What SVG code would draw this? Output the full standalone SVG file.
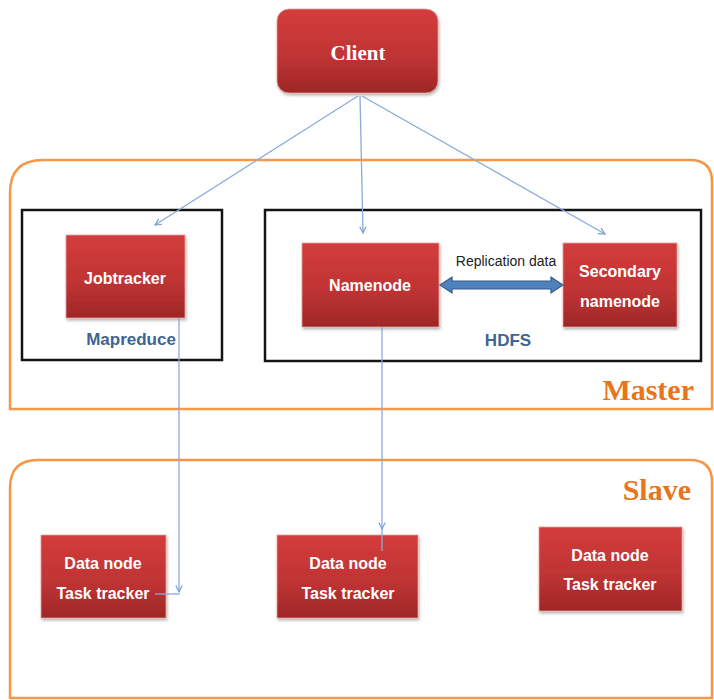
<svg xmlns="http://www.w3.org/2000/svg" width="714" height="700" viewBox="0 0 714 700">
  <style>
    .tier { fill: none; stroke: #f79646; stroke-width: 2.5; }
    .group { fill: none; stroke: #141414; stroke-width: 2.5; }
    .box { fill: url(#redFill); stroke: #e7a0a0; stroke-width: 0.8; filter: url(#shadow); }
    .label { font-family: "Liberation Sans", Arial, sans-serif; font-weight: bold; font-size: 16px; fill: #ffffff; text-anchor: middle; }
    .title { font-family: "Liberation Serif", "DejaVu Serif", serif; font-weight: bold; fill: #ffffff; text-anchor: middle; font-size: 21px; }
    .groupName { font-family: "Liberation Sans", Arial, sans-serif; font-weight: bold; font-size: 17px; fill: #3f6395; text-anchor: middle; }
    .tierName { font-family: "Liberation Serif", "DejaVu Serif", serif; font-weight: bold; font-size: 30px; fill: #e8741c; text-anchor: end; }
    .note { font-family: "Liberation Sans", Arial, sans-serif; font-size: 14px; fill: #222222; text-anchor: middle; }
    .link { fill: none; stroke: #8aaadb; stroke-width: 1.3; }
  </style>
  <defs>
    <linearGradient id="redFill" x1="0" y1="0" x2="0" y2="1">
      <stop offset="0" stop-color="#d33c3c"/>
      <stop offset="0.55" stop-color="#c03434"/>
      <stop offset="1" stop-color="#9f2727"/>
    </linearGradient>
    <filter id="shadow" x="-10%" y="-10%" width="125%" height="130%">
      <feDropShadow dx="1" dy="2" stdDeviation="1.5" flood-color="#000000" flood-opacity="0.3"/>
    </filter>
    <marker id="openArrow" viewBox="0 0 10 10" refX="9" refY="5" markerWidth="8" markerHeight="8" markerUnits="userSpaceOnUse" orient="auto">
      <path d="M1,1 L9,5 L1,9" fill="none" stroke="#7a9fd6" stroke-width="1.5"/>
    </marker>
  </defs>

  <rect width="714" height="700" fill="#ffffff"/>

  <!-- Master and Slave tiers -->
  <g id="master">
    <path class="tier" d="M10,409 L10,193 Q10,160 43,160 L690,160 Q712,160 712,182 L712,409 Z"/>
    <text class="tierName" x="694" y="400">Master</text>
  </g>
  <g id="slave">
    <path class="tier" d="M10,698 L10,488 Q10,460 38,460 L690,460 Q712,460 712,482 L712,698 Z"/>
    <text class="tierName" x="691" y="500">Slave</text>
  </g>

  <!-- Groups inside master -->
  <g id="mapreduce">
    <rect class="group" x="22" y="210" width="200" height="150"/>
    <text class="groupName" x="131" y="345">Mapreduce</text>
  </g>
  <g id="hdfs">
    <rect class="group" x="265" y="210" width="436" height="151"/>
    <text class="groupName" x="508" y="346">HDFS</text>
  </g>

  <!-- Nodes -->
  <g id="client">
    <rect class="box" x="277" y="9" width="161" height="84" rx="12"/>
    <text class="title" x="358" y="60">Client</text>
  </g>
  <g id="jobtracker">
    <rect class="box" x="66" y="235" width="119" height="83"/>
    <text class="label" x="125" y="284">Jobtracker</text>
  </g>
  <g id="namenode">
    <rect class="box" x="302" y="243" width="137" height="84"/>
    <text class="label" x="370" y="291">Namenode</text>
  </g>
  <g id="secondary-namenode">
    <rect class="box" x="563" y="243" width="114" height="84"/>
    <text class="label" x="620" y="277">Secondary</text>
    <text class="label" x="620" y="307">namenode</text>
  </g>
  <g id="datanode-1">
    <rect class="box" x="41" y="535" width="125" height="83"/>
    <text class="label" x="103" y="569">Data node</text>
    <text class="label" x="103" y="599">Task tracker</text>
  </g>
  <g id="datanode-2">
    <rect class="box" x="277" y="535" width="141" height="83"/>
    <text class="label" x="348" y="569">Data node</text>
    <text class="label" x="348" y="599">Task tracker</text>
  </g>
  <g id="datanode-3">
    <rect class="box" x="539" y="527" width="143" height="84"/>
    <text class="label" x="610" y="561">Data node</text>
    <text class="label" x="610" y="590">Task tracker</text>
  </g>

  <!-- Connectors -->
  <g id="connectors">
    <line class="link" x1="358" y1="96" x2="155" y2="225" marker-end="url(#openArrow)"/>
    <line class="link" x1="360" y1="96" x2="363" y2="233" marker-end="url(#openArrow)"/>
    <line class="link" x1="362" y1="96" x2="605" y2="234" marker-end="url(#openArrow)"/>
    <line class="link" x1="179" y1="318" x2="179" y2="592" marker-end="url(#openArrow)"/>
    <line class="link" x1="155" y1="594" x2="180" y2="594"/>
    <line class="link" x1="382" y1="327" x2="382" y2="529" marker-end="url(#openArrow)"/>
    <line class="link" x1="382" y1="529" x2="382" y2="551"/>
    <!-- replication link between namenodes -->
    <path d="M440,285 L452,277 L452,281 L551,281 L551,277 L563,285 L551,293 L551,289 L452,289 L452,293 Z" fill="#4f81bd" stroke="#385d8a" stroke-width="1.2"/>
    <text class="note" x="506" y="266">Replication data</text>
  </g>
</svg>
